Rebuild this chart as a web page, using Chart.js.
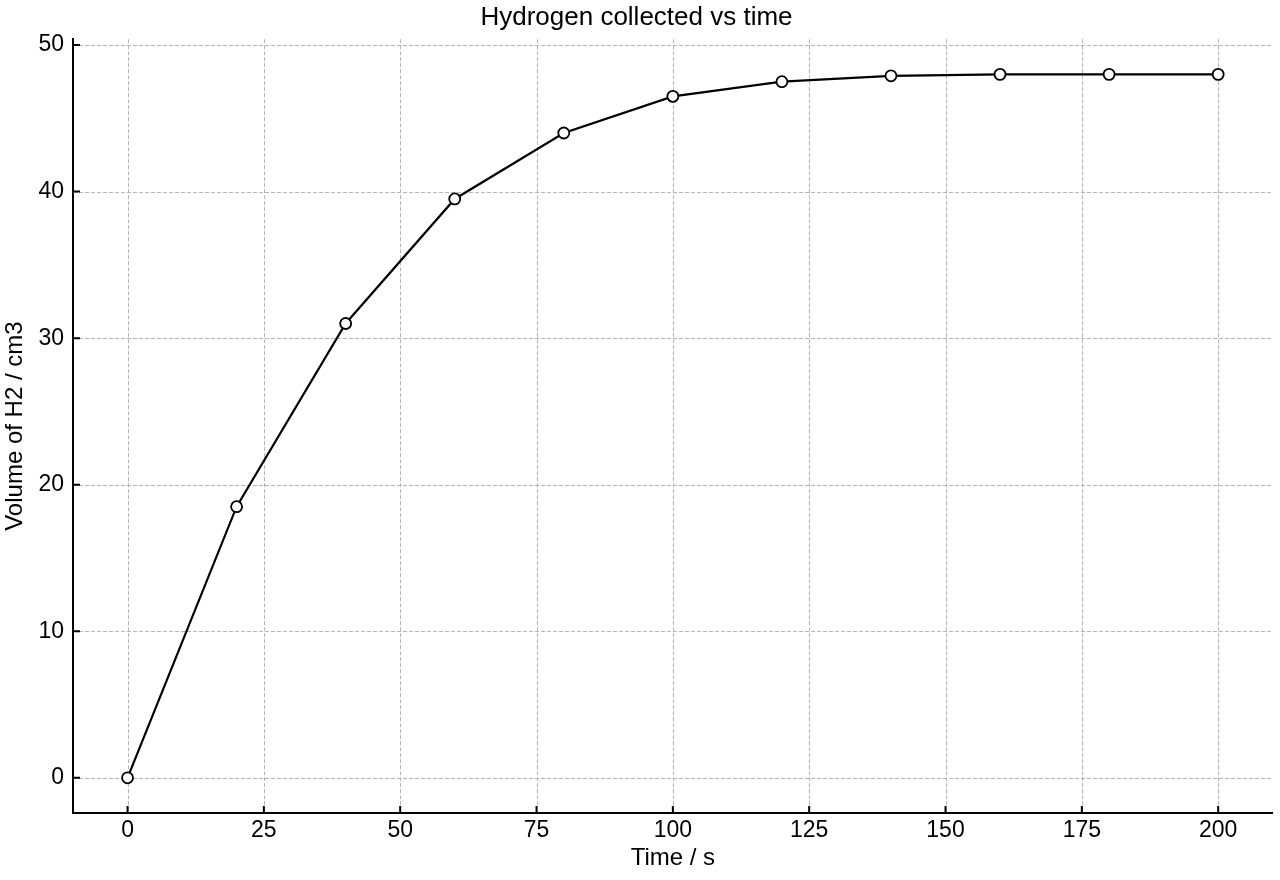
<!DOCTYPE html>
<html>
<head>
<meta charset="utf-8">
<script src="https://cdn.jsdelivr.net/npm/chart.js@4/dist/chart.umd.min.js"></script>
<style>
  html, body { margin: 0; padding: 0; background: #fff; }
  #wrap { width: 1280px; height: 880px; }
</style>
</head>
<body>
<div id="wrap"><canvas id="chart" width="1280" height="880"></canvas></div>
<script>
const times = [0, 20, 40, 60, 80, 100, 120, 140, 160, 180, 200];
const volumes = [0, 18.5, 31, 39.5, 44, 46.5, 47.5, 47.9, 48, 48, 48];
const xTicks = [0, 25, 50, 75, 100, 125, 150, 175, 200];
const yTicks = [0, 10, 20, 30, 40, 50];

const FONT = "'Liberation Sans', Arial, Helvetica, sans-serif";

// dashed grid under the line
const dashedGrid = {
  id: "dashedGrid",
  beforeDatasetsDraw(chart) {
    const ctx = chart.ctx;
    const x = chart.scales.x;
    const y = chart.scales.y;
    const area = chart.chartArea;
    ctx.save();
    ctx.strokeStyle = "#b5b5b5";
    ctx.lineWidth = 1;
    ctx.setLineDash([4, 2]);
    ctx.beginPath();
    x.ticks.forEach((t) => {
      const px = Math.round(x.getPixelForValue(t.value)) + 0.5;
      ctx.moveTo(px, area.top);
      ctx.lineTo(px, area.bottom);
    });
    y.ticks.forEach((t) => {
      const py = Math.round(y.getPixelForValue(t.value)) + 0.5;
      ctx.moveTo(area.left, py);
      ctx.lineTo(area.right, py);
    });
    ctx.stroke();
    ctx.restore();
  },
};

// matplotlib style ticks pointing into the plot
const innerTicks = {
  id: "innerTicks",
  afterDraw(chart) {
    const ctx = chart.ctx;
    const x = chart.scales.x;
    const y = chart.scales.y;
    const area = chart.chartArea;
    ctx.save();
    ctx.strokeStyle = "#000";
    ctx.lineWidth = 2;
    ctx.beginPath();
    x.ticks.forEach((t) => {
      const px = x.getPixelForValue(t.value);
      ctx.moveTo(px, area.bottom);
      ctx.lineTo(px, area.bottom - 7);
    });
    y.ticks.forEach((t) => {
      const py = y.getPixelForValue(t.value);
      ctx.moveTo(area.left, py);
      ctx.lineTo(area.left + 7, py);
    });
    ctx.stroke();
    ctx.restore();
  },
};

new Chart(document.getElementById("chart"), {
  type: "line",
  data: {
    labels: times,
    datasets: [
      {
        label: "Volume",
        data: times.map((t, i) => ({ x: t, y: volumes[i] })),
        borderColor: "#000",
        borderWidth: 2.2,
        backgroundColor: "#fff",
        pointBackgroundColor: "#fff",
        pointBorderColor: "#000",
        pointBorderWidth: 1.8,
        pointRadius: 5.5,
        tension: 0,
        fill: false,
      },
    ],
  },
  options: {
    responsive: false,
    animation: false,
    devicePixelRatio: 1,
    layout: { padding: { top: 0, right: 7, bottom: 0, left: 0 } },
    plugins: {
      legend: { display: false },
      tooltip: { enabled: false },
      title: {
        display: true,
        text: "Hydrogen collected vs time",
        color: "#000",
        font: { family: FONT, size: 26, weight: "normal" },
        padding: { top: 2, bottom: 6 },
      },
    },
    scales: {
      x: {
        type: "linear",
        min: -10,
        max: 210,
        afterBuildTicks: (s) => {
          s.ticks = xTicks.map((v) => ({ value: v }));
        },
        afterFit: (s) => {
          s.height = 67;
        },
        grid: { drawOnChartArea: false, drawTicks: false },
        border: { color: "#000", width: 2 },
        ticks: {
          color: "#000",
          padding: 4,
          maxRotation: 0,
          font: { family: FONT, size: 23 },
        },
        title: {
          display: true,
          text: "Time / s",
          color: "#000",
          font: { family: FONT, size: 24 },
          padding: { top: 0, bottom: 7 },
        },
      },
      y: {
        type: "linear",
        min: -2.4,
        max: 50.4,
        afterBuildTicks: (s) => {
          s.ticks = yTicks.map((v) => ({ value: v }));
        },
        afterFit: (s) => {
          s.width = 73;
        },
        grid: { drawOnChartArea: false, drawTicks: false },
        border: { color: "#000", width: 2 },
        ticks: {
          color: "#000",
          padding: 9,
          font: { family: FONT, size: 23 },
        },
        title: {
          display: true,
          text: "Volume of H2 / cm3",
          color: "#000",
          font: { family: FONT, size: 24 },
          padding: { top: 1, bottom: 0 },
        },
      },
    },
  },
  plugins: [dashedGrid, innerTicks],
});
</script>
</body>
</html>
